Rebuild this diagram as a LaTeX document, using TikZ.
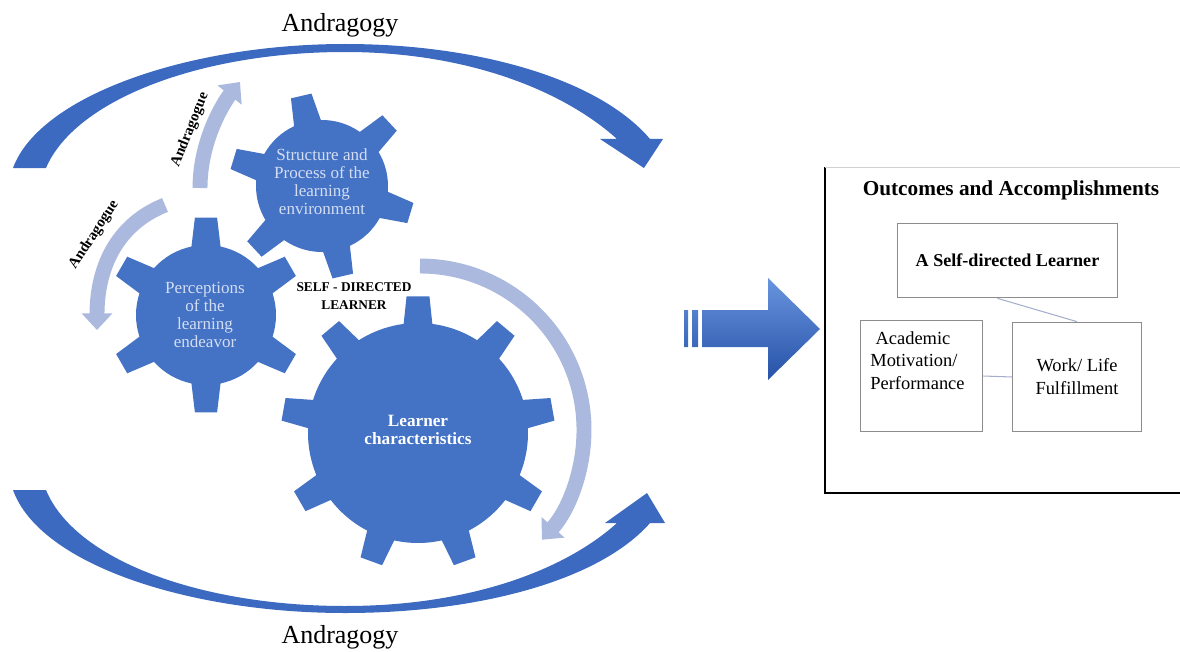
\documentclass[tikz,border=0pt]{standalone}
\usepackage{fontspec}
\setmainfont{Liberation Serif}
\usetikzlibrary{arrows.meta,positioning,calc}

\definecolor{gearblue}{RGB}{68,114,196}
\definecolor{arcblue}{RGB}{60,106,192}
\definecolor{paleband}{RGB}{170,185,221}
\definecolor{geartxt}{RGB}{212,222,243}
\definecolor{boxgray}{RGB}{140,140,140}
\definecolor{linkgray}{RGB}{165,175,205}

\begin{document}
\begin{tikzpicture}[x=0.02cm, y=-0.02cm,
    pics/gear/.style args={#1/#2/#3/#4/#5/#6}{code={
      % teeth count / body radius / tip radius / first tooth / base half angle / tip half angle
      \fill[gearblue] ({#4-#5}:#2)
        \foreach \k [evaluate=\k as \ang using #4+(\k-1)*360/#1] in {1,...,#1}{
          -- ({\ang-#6}:#3) -- ({\ang+#6}:#3) -- ({\ang+#5}:#2)
          arc[start angle=\ang+#5, end angle=\ang+360/#1-#5, radius=#2]
        } -- cycle;
    }},
    gear text/.style={text=geartxt, align=center, font=\fontsize{9.7}{10.3}\selectfont},
    big label/.style={font=\fontsize{14.8}{16}\selectfont},
    guide label/.style={font=\bfseries\fontsize{8.5}{10}\selectfont},
    pale arrow/.style={draw=paleband, line width=8.5pt, -{Triangle[length=9.5pt,width=17pt]}},
    inner box/.style={draw=boxgray, line width=0.6pt, inner sep=0pt},
    box text/.style={font=\fontsize{10.5}{13}\selectfont, align=left, inner sep=0pt},
    link/.style={draw=linkgray, line width=0.6pt}
]
\useasboundingbox (0,0) rectangle (1180,652);

% outer andragogy arcs
\fill[arcblue] (13,168) .. controls (40,95) and (190,44) .. (345,44)
  .. controls (480,44) and (600,80) .. (650,139)
  -- (663,139) -- (644,168) -- (600,139) -- (617,139)
  .. controls (565,92) and (470,52) .. (345,52)
  .. controls (200,52) and (75,100) .. (46,168) -- cycle;
\fill[arcblue] (13,490) .. controls (40,565) and (190,613) .. (345,613)
  .. controls (480,613) and (600,580) .. (650,523)
  -- (665,523) -- (647,493) -- (605,523) -- (617,523)
  .. controls (565,570) and (470,606) .. (345,606)
  .. controls (200,606) and (75,560) .. (46,490) -- cycle;
\node[big label] (andtop) at (340,25) {Andragogy};
\node[big label] (andbot) at (340,637) {Andragogy};

% gears
\pic at (322,186) {gear={6/66/93/-103/12/6.5}};
\pic at (206,315) {gear={6/70/98/-90/12/6.5}};
\pic at (418,433) {gear={9/110/137/-90/7.5/4.8}};
\node[gear text] (structure) at (322,182) {Structure and\\Process of the\\learning\\environment};
\node[gear text] (percept) at (205,315) {Perceptions\\of the\\learning\\endeavor};
\node[gear text, text=white, font=\bfseries\fontsize{9.8}{10.3}\selectfont] (learner) at (418,430) {Learner\\characteristics};
\node[align=center, font=\bfseries\fontsize{7.6}{10.2}\selectfont] (selfdir) at (354,296) {SELF - DIRECTED\\LEARNER};

% andragogue arrows
\draw[pale arrow] (200,188) .. controls (200,140) and (224,102) .. (240,82);
\draw[pale arrow] (165,205) .. controls (115,225) and (97,270) .. (97,330);
\draw[pale arrow] (420,266) arc[start angle=-90, end angle=42, radius=164];
\node[guide label, rotate=68] (guideup) at (190,130) {Andragogue};
\node[guide label, rotate=57] (guidelow) at (94,235) {Andragogue};

% block arrow
\shade[top color={rgb,255:red,105;green,148;blue,222}, bottom color={rgb,255:red,38;green,82;blue,168}]
  (684,310) rectangle (688,347) (692,310) rectangle (698,347)
  (702,310) -- (768,310) -- (768,278) -- (820,329) -- (768,380) -- (768,347) -- (702,347) -- cycle;

% outcomes frame, its right side runs off the page
\node[minimum width=209.8pt, minimum height=184.8pt, inner sep=0pt] (outcomes) at (1010,330) {};
\draw[black, line width=1.1pt] (outcomes.north west) -- (outcomes.south west) -- (outcomes.south east);
\draw[gray!35, line width=0.8pt] (outcomes.north west) -- (outcomes.north east);
\node[font=\bfseries\fontsize{12.1}{13}\selectfont] (outtitle) at (1011,190) {Outcomes and Accomplishments};
\node[inner box, minimum width=125.3pt, minimum height=42.5pt, font=\bfseries\fontsize{10.3}{12}\selectfont] (selfbox) at (1007.5,260.5) {A Self-directed Learner};
\node[inner box, minimum width=69.7pt, minimum height=63.5pt] (academic) at (921.5,376) {};
\node[box text, anchor=north west] (acadtext) at (870,331) {\hspace{3pt}Academic\\Motivation/\\Performance};
\node[inner box, minimum width=73.7pt, minimum height=62.4pt, box text, align=center] (work) at (1077,377) {Work/ Life\\Fulfillment};
\draw[link] (academic.east) -- (work.west);
\draw[link] ($(selfbox.south)+(-10,0)$) -- (work.north);
\end{tikzpicture}
\end{document}
